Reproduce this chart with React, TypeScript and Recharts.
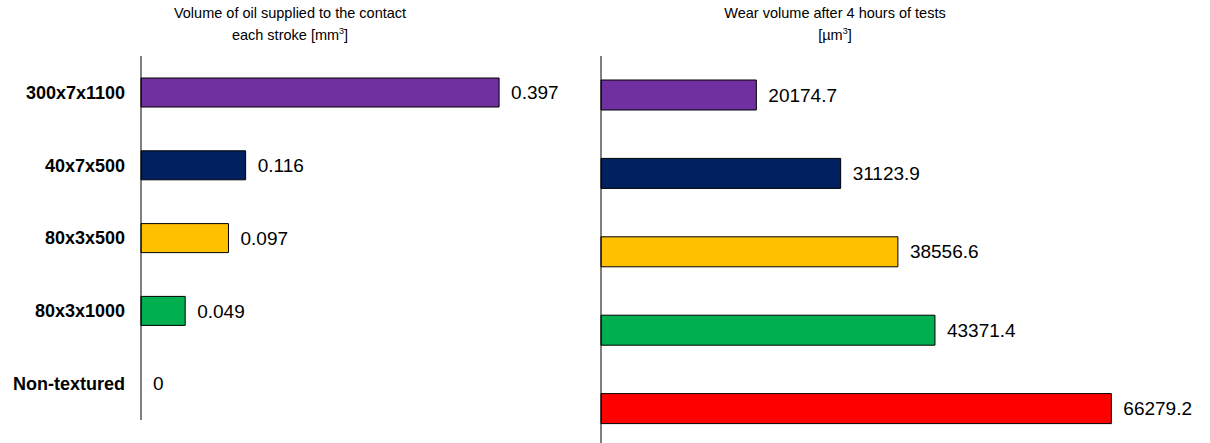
import React from 'react';
import { BarChart, Bar, XAxis, YAxis, LabelList, Cell } from 'recharts';

const categories = ['300x7x1100', '40x7x500', '80x3x500', '80x3x1000', 'Non-textured'];
const oilVolume = [0.397, 0.116, 0.097, 0.049, 0];
const wearVolume = [20174.7, 31123.9, 38556.6, 43371.4, 66279.2];
const barColors = ['#7030A0', '#002060', '#FFC000', '#00B050', '#FF0000'];

const oilData = categories.map((name, i) => ({ name, value: oilVolume[i] }));
const wearData = categories.map((name, i) => ({ name, value: wearVolume[i] }));

const font = 'Arial, "Liberation Sans", sans-serif';

const titleStyle: React.CSSProperties = {
  position: 'absolute',
  top: 2,
  fontFamily: font,
  fontSize: 14.5,
  lineHeight: '22px',
  color: '#000',
  textAlign: 'center',
  width: 400,
};

// label placed after the bar end; zero bars get a 1px invisible bar so it still shows
const ValueLabel = (props: any) => {
  const { x, y, width, height, value } = props;
  const w = value === 0 ? 0 : Number(width || 0);
  return (
    <text
      x={Number(x) + w + 12}
      y={Number(y) + Number(height) / 2}
      dy="0.35em"
      fill="#000"
      fontSize={19}
      fontFamily={font}
      textAnchor="start"
    >
      {value}
    </text>
  );
};

const App = () => {
  return (
    <div style={{ position: 'absolute', left: 0, top: 0, width: 1210, height: 443, overflow: 'hidden', background: '#fff' }}>
      <div style={{ ...titleStyle, left: 90 }}>
        Volume of oil supplied to the contact
        <br />
        each stroke [mm<sup style={{ fontSize: 9, lineHeight: 0 }}>3</sup>]
      </div>
      <div style={{ ...titleStyle, left: 635 }}>
        Wear volume after 4 hours of tests
        <br />
        [µm<sup style={{ fontSize: 9, lineHeight: 0 }}>3</sup>]
      </div>

      <div style={{ position: 'absolute', left: 0, top: 0 }}>
        <BarChart
          width={595}
          height={425}
          data={oilData}
          layout="vertical"
          margin={{ top: 56, right: 3, bottom: 5, left: 0 }}
          barCategoryGap={0}
        >
          <XAxis type="number" domain={[0, 0.5]} hide />
          <YAxis
            type="category"
            dataKey="name"
            width={141}
            axisLine={{ stroke: '#000', strokeWidth: 1 }}
            tickLine={false}
            tickSize={8}
            tickMargin={8}
            tick={{ fill: '#000', fontSize: 18, fontWeight: 'bold', fontFamily: font }}
          />
          <Bar dataKey="value" barSize={29} minPointSize={1} isAnimationActive={false}>
            {oilData.map((d, i) => (
              <Cell
                key={d.name}
                fill={d.value === 0 ? 'none' : barColors[i]}
                stroke={d.value === 0 ? 'none' : '#000'}
                strokeWidth={1}
              />
            ))}
            <LabelList dataKey="value" content={<ValueLabel />} />
          </Bar>
        </BarChart>
      </div>

      <div style={{ position: 'absolute', left: 590, top: 0 }}>
        <BarChart
          width={630}
          height={450}
          data={wearData}
          layout="vertical"
          margin={{ top: 56, right: 3, bottom: 2, left: 0 }}
          barCategoryGap={0}
        >
          <XAxis type="number" domain={[0, 80000]} hide />
          <YAxis
            type="category"
            dataKey="name"
            width={11}
            axisLine={{ stroke: '#000', strokeWidth: 1 }}
            tickLine={false}
            tick={false}
          />
          <Bar dataKey="value" barSize={30} stroke="#000" strokeWidth={1} isAnimationActive={false}>
            {wearData.map((d, i) => (
              <Cell key={d.name} fill={barColors[i]} />
            ))}
            <LabelList dataKey="value" content={<ValueLabel />} />
          </Bar>
        </BarChart>
      </div>
    </div>
  );
};

export default App;
